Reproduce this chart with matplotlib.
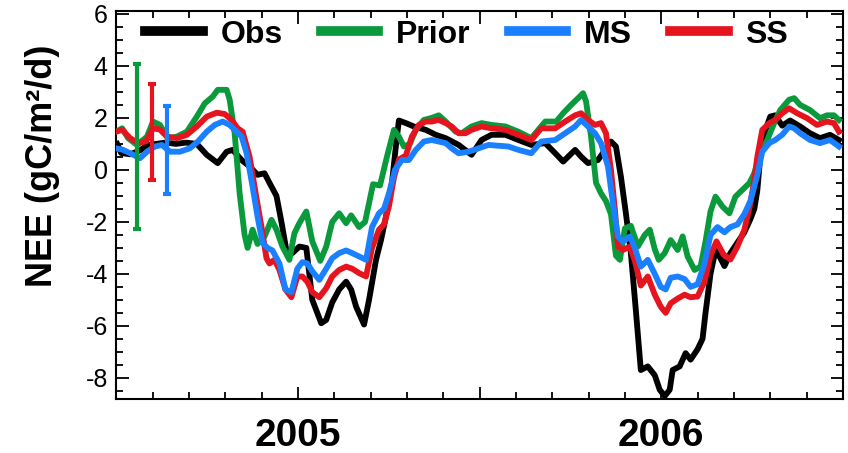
import numpy as np
import matplotlib
matplotlib.use('Agg')
import matplotlib.pyplot as plt
from matplotlib.ticker import MultipleLocator, FixedLocator

plt.rcParams['font.family'] = ['Liberation Sans', 'DejaVu Sans']
plt.rcParams['axes.unicode_minus'] = False

# days since 2005-01-01
obs_day = [1, 5, 14, 24, 31, 40, 50, 60, 70, 81, 91, 102, 111, 117, 126, 134, 142, 149, 154, 161,
           166, 171, 177, 184, 191, 197, 206, 211, 217, 224, 231, 236, 241, 249, 254, 261, 266, 271,
           277, 282, 284, 291, 299, 311, 321, 331, 344, 357, 367, 377, 391, 404, 417, 431, 441, 449,
           461, 467, 474, 484, 497, 502, 507, 512, 517, 522, 527, 534, 541, 546, 551, 556, 559, 566,
           572, 577, 584, 589, 592, 597, 602, 607, 611, 617, 624, 631, 637, 641, 644, 647, 651, 657,
           662, 669, 677, 687, 697, 707, 717, 726]
obs = [1.0, 0.65, 0.6, 0.75, 0.95, 1.0, 1.05, 1.0, 1.05, 1.0, 0.58, 0.26, 0.7, 0.77, 0.38, 0.13,
       -0.19, -0.13, -0.5, -1.0, -2.0, -3.1, -3.2, -2.95, -3.0, -5.0, -5.9, -5.77, -5.1, -4.6, -4.3,
       -4.6, -5.26, -5.95, -5.0, -3.46, -2.7, -1.8, -0.5, 1.28, 1.9, 1.8, 1.67, 1.54, 1.35, 1.22,
       0.96, 0.58, 1.15, 1.35, 1.35, 1.15, 0.96, 1.03, 0.64, 0.32, 0.77, 0.51, 0.26, 0.38, 1.09, 0.9,
       -0.26, -1.67, -3.2, -5.4, -7.7, -7.56, -7.9, -8.46, -8.7, -8.46, -7.7, -7.56, -7.05, -7.3,
       -6.9, -6.5, -5.5, -4.0, -3.1, -3.4, -3.7, -3.2, -2.8, -2.4, -1.9, -1.5, -0.8, 0.5, 1.4, 2.05,
       2.1, 1.7, 1.9, 1.67, 1.41, 1.22, 1.35, 1.15]

prior_day = [0, 6, 12, 21, 31, 37, 44, 52, 61, 71, 81, 89, 97, 102, 111, 114, 119, 124, 129, 132,
             137, 142, 149, 156, 161, 167, 174, 179, 184, 191, 197, 205, 211, 217, 224, 231, 236,
             244, 250, 254, 258, 265, 272, 279, 284, 289, 295, 301, 309, 317, 324, 331, 341, 347,
             357, 367, 377, 391, 404, 417, 431, 442, 449, 457, 464, 469, 472, 477, 482, 487, 492,
             497, 502, 506, 511, 517, 524, 531, 536, 541, 545, 551, 557, 564, 569, 574, 581, 587,
             592, 597, 602, 609, 616, 622, 629, 636, 641, 647, 654, 661, 667, 676, 681, 687, 697,
             707, 714, 721, 726]
prior = [1.47, 1.6, 1.22, 0.96, 1.28, 1.86, 1.73, 1.22, 1.28, 1.47, 2.05, 2.56, 2.82, 3.08, 3.08,
         2.7, 1.41, -0.9, -2.5, -3.0, -2.3, -2.85, -2.56, -1.92, -2.3, -2.95, -3.46, -2.44, -2.05,
         -1.6, -2.75, -3.5, -2.95, -2.0, -1.67, -2.05, -1.75, -2.2, -2.0, -1.28, -0.55, -0.6, 0.51,
         1.54, 1.28, 0.9, 1.0, 1.54, 1.92, 2.0, 2.1, 1.86, 1.47, 1.41, 1.67, 1.8, 1.73, 1.67, 1.47,
         1.22, 1.86, 1.86, 2.18, 2.5, 2.76, 2.95, 2.63, 1.28, -0.5, -0.9, -1.2, -1.7, -3.3, -3.46,
         -2.25, -2.15, -2.95, -2.5, -2.3, -3.05, -3.46, -3.2, -2.7, -3.08, -2.56, -3.33, -3.85,
         -3.72, -2.75, -1.6, -1.03, -1.41, -1.67, -1.03, -0.77, -0.51, -0.13, 0.64, 1.15, 1.8, 2.3,
         2.7, 2.76, 2.5, 2.3, 1.99, 2.1, 2.1, 1.92]

ms_day = [0, 7, 14, 24, 31, 39, 46, 54, 64, 74, 82, 91, 99, 107, 114, 121, 126, 131, 137, 142,
          147, 152, 157, 164, 170, 176, 182, 187, 192, 197, 204, 211, 217, 224, 231, 237, 244, 251,
          257, 264, 269, 274, 280, 287, 294, 301, 309, 317, 324, 331, 337, 344, 354, 364, 374, 384,
          394, 404, 417, 427, 441, 451, 461, 467, 474, 481, 487, 494, 499, 504, 509, 516, 521, 527,
          534, 541, 547, 552, 557, 564, 571, 577, 584, 591, 597, 604, 611, 617, 624, 631, 637, 644,
          649, 656, 662, 669, 676, 681, 687, 697, 707, 717, 726]
ms = [0.83, 0.77, 0.64, 0.45, 0.7, 0.9, 0.96, 0.7, 0.7, 0.83, 1.09, 1.47, 1.73, 1.86, 1.73, 1.47,
      1.28, 0.64, -0.64, -1.8, -2.8, -3.0, -3.1, -3.6, -4.6, -4.7, -3.8, -3.55, -3.6, -3.9, -4.23,
      -3.8, -3.4, -3.2, -3.1, -3.2, -3.33, -3.46, -2.2, -1.67, -1.5, -0.9, 0.0, 0.38, 0.38, 0.77,
      1.09, 1.15, 1.09, 1.03, 0.83, 0.64, 0.7, 0.83, 0.96, 0.93, 0.9, 0.77, 0.64, 1.09, 1.15, 1.41,
      1.67, 1.92, 1.67, 1.41, 1.03, 0.13, -1.28, -2.56, -2.76, -2.56, -3.0, -3.72, -3.46, -4.0,
      -4.5, -4.6, -4.15, -4.1, -4.2, -4.5, -4.4, -3.6, -2.5, -2.2, -2.4, -2.2, -2.1, -1.7, -1.2,
      -0.2, 0.7, 1.03, 1.15, 1.35, 1.67, 1.6, 1.41, 1.15, 1.03, 1.15, 0.9]

ss_day = [0, 6, 14, 22, 30, 37, 44, 51, 61, 71, 81, 91, 101, 109, 116, 122, 127, 134, 141, 146,
          151, 154, 159, 164, 170, 176, 182, 187, 192, 197, 204, 211, 217, 224, 231, 237, 244, 251,
          257, 264, 269, 274, 279, 284, 291, 297, 304, 311, 317, 324, 331, 337, 344, 351, 357, 367,
          377, 391, 404, 417, 427, 441, 451, 461, 467, 474, 481, 487, 492, 497, 501, 504, 509, 516,
          521, 527, 534, 541, 547, 552, 557, 564, 571, 577, 584, 591, 597, 603, 610, 617, 624, 631,
          637, 641, 644, 649, 656, 662, 669, 676, 684, 694, 704, 714, 721, 726]
ss = [1.47, 1.54, 1.22, 1.03, 1.1, 1.6, 1.55, 1.28, 1.22, 1.35, 1.67, 2.05, 2.2, 2.15, 1.92, 1.6,
      1.47, 0.51, -1.1, -2.2, -3.4, -3.6, -3.46, -3.85, -4.6, -4.9, -4.1, -4.1, -4.3, -4.7, -4.9,
      -4.55, -4.1, -3.85, -3.72, -3.8, -3.97, -4.1, -3.0, -2.3, -2.1, -1.4, -0.3, 0.4, 0.55, 1.28,
      1.73, 1.86, 1.86, 1.92, 1.8, 1.67, 1.41, 1.41, 1.54, 1.67, 1.6, 1.54, 1.35, 1.15, 1.6, 1.6,
      1.86, 2.1, 2.18, 1.92, 1.73, 1.8, 1.41, 0.0, -1.54, -2.95, -3.08, -2.95, -3.5, -4.45, -4.1,
      -4.8, -5.26, -5.5, -5.13, -4.95, -4.8, -4.9, -4.87, -4.3, -3.3, -2.75, -3.25, -3.45, -2.95,
      -2.3, -1.3, -0.38, 0.5, 1.54, 1.8, 1.92, 2.18, 2.37, 2.18, 1.99, 1.73, 1.86, 1.8, 1.47]

# uncertainty bars near the start
err_day = [20.7, 35.7, 50.7]
err_mid = [0.9, 1.46, 0.78]
err_half = [3.18, 1.85, 1.69]

col_obs = '#000000'
col_prior = '#0a9a3c'
col_ms = '#1a80ff'
col_ss = '#e5141e'

fig = plt.figure(figsize=(8.48, 4.53), dpi=100)
ax = fig.add_axes([0.137, 0.12, 0.857, 0.855])

lw = 4.2
ax.plot(obs_day, obs, color=col_obs, lw=lw, label='Obs', zorder=2)
ax.plot(prior_day, prior, color=col_prior, lw=lw, label='Prior', zorder=3)
ax.plot(ss_day, ss, color=col_ss, lw=lw, label='SS', zorder=4)
ax.plot(ms_day, ms, color=col_ms, lw=lw, label='MS', zorder=5)

for d, m, e, c in zip(err_day, err_mid, err_half, [col_prior, col_ss, col_ms]):
    ax.errorbar([d], [m], yerr=[e], fmt='none', ecolor=c, elinewidth=3,
                capsize=3, capthick=3, zorder=6)

ax.set_xlim(0, 730)
ax.set_ylim(-8.8, 6.1)

ax.xaxis.set_major_locator(FixedLocator([0, 182.5, 365, 547.5, 730]))
ax.set_xticklabels(['', '2005', '', '2006', ''], fontsize=28, fontweight='bold')
ax.xaxis.set_minor_locator(MultipleLocator(36.5))
ax.yaxis.set_major_locator(MultipleLocator(2))
ax.yaxis.set_minor_locator(MultipleLocator(0.5))

ax.tick_params(which='both', direction='in', top=True, right=True, width=1.3)
ax.tick_params(which='major', length=9)
ax.tick_params(which='minor', length=5)
ax.tick_params(axis='x', which='major', pad=14)
ax.tick_params(axis='y', which='major', labelsize=18, pad=6)

for s in ax.spines.values():
    s.set_linewidth(1.5)

ax.set_ylabel('NEE (gC/m²/d)', fontsize=26, fontweight='bold', va='center')
ax.yaxis.set_label_coords(-0.102, 0.60)

h, l = ax.get_legend_handles_labels()
order = [0, 1, 3, 2]
leg = ax.legend([h[i] for i in order], [l[i] for i in order], loc='upper left',
                bbox_to_anchor=(0.018, 1.02), ncol=4, frameon=False, borderpad=0,
                handlelength=1.8, handletextpad=0.55, columnspacing=1.2,
                prop={'size': 23, 'weight': 'bold'})
for line in leg.get_lines():
    line.set_linewidth(7)

plt.savefig('out.png', dpi=100)
